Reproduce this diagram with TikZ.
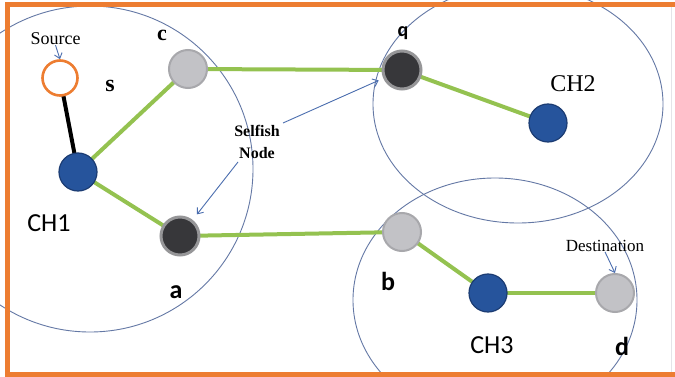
\documentclass[tikz,border=0pt]{standalone}
\usepackage{fontspec}
\setmainfont{Liberation Serif}
\newfontfamily\calib{Carlito}
\usetikzlibrary{arrows.meta,backgrounds}
\definecolor{frameorange}{RGB}{237,125,49}
\definecolor{rangeblue}{RGB}{100,120,165}
\definecolor{linkgreen}{RGB}{148,194,80}
\definecolor{headblue}{RGB}{38,84,156}
\definecolor{headrim}{RGB}{28,60,115}
\definecolor{idlegray}{RGB}{194,194,198}
\definecolor{idlerim}{RGB}{168,168,172}
\definecolor{selfdark}{RGB}{55,55,58}
\definecolor{selfrim}{RGB}{150,150,152}
\definecolor{pointblue}{RGB}{75,110,175}
\definecolor{edgegray}{RGB}{228,228,232}
\begin{document}
\begin{tikzpicture}[x=1pt,y=-1pt,
  mote/.style={circle,minimum size=38pt,inner sep=0pt},
  head/.style={mote,fill=headblue,draw=headrim,line width=1.2pt},
  idle/.style={mote,fill=idlegray,draw=idlerim,line width=2pt},
  rogue/.style={mote,fill=selfdark,draw=selfrim,line width=3pt},
  origin/.style={mote,fill=white,draw=frameorange,line width=2.6pt,minimum size=35pt},
  link/.style={linkgreen,line width=4pt},
  rangeline/.style={rangeblue,line width=0.9pt},
  pointer/.style={pointblue,line width=0.9pt,-{Straight Barb[length=5pt,width=8pt]}},
  txt/.style={inner sep=0pt}
]
\useasboundingbox (0,0) rectangle (675,377);

% sensor nodes
\node[origin] (s)   at (60,78)   {};
\node[idle]   (c)   at (188,69)  {};
\node[head]   (ch1) at (78,172)  {};
\node[rogue]  (a)   at (180,236) {};
\node[rogue]  (q)   at (402,70)  {};
\node[head]   (ch2) at (548,123) {};
\node[idle]   (b)   at (402,232) {};
\node[head]   (ch3) at (488,293) {};
\node[idle]   (d)   at (615,293) {};

% cluster ranges and links, kept underneath the nodes
\begin{scope}[on background layer]
  \fill[white] (0,0) rectangle (675,377);
  \begin{scope}
    \clip (0,0) rectangle (675,377);
    \draw[rangeline] (90,169) circle[radius=163pt];
    \draw[rangeline] (518,104) ellipse[x radius=145pt,y radius=119pt];
    \draw[rangeline] (495,300) ellipse[x radius=142pt,y radius=122pt];
  \end{scope}
  \draw[black,line width=4pt] (s.center) -- (ch1.center);
  \draw[link] (ch1.center) -- (c.center);
  \draw[link] (c.center) -- (q.center);
  \draw[link] (q.center) -- (ch2.center);
  \draw[link] (ch1.center) -- (a.center);
  \draw[link] (a.center) -- (b.center);
  \draw[link] (b.center) -- (ch3.center);
  \draw[link] (ch3.center) -- (d.center);
\end{scope}

% labels
\node[txt,font=\fontsize{18}{20}\selectfont] (srclbl) at (55.5,39) {Source};
\node[txt,font=\fontsize{22}{24}\selectfont\bfseries] (clbl) at (162,35) {c};
\node[txt,font=\fontsize{24}{26}\selectfont\bfseries] (slbl) at (110,86) {s};
\node[txt,font=\calib\fontsize{26}{28}\selectfont] (ch1lbl) at (49,223) {CH1};
\node[txt,font=\calib\fontsize{26}{28}\selectfont\bfseries] (albl) at (176,292) {a};
\node[txt,font=\calib\fontsize{20}{22}\selectfont\bfseries] (qlbl) at (403,33) {q};
\node[txt,font=\fontsize{24}{26}\selectfont] (ch2lbl) at (573,84) {CH2};
\node[txt,font=\calib\fontsize{26}{28}\selectfont\bfseries] (blbl) at (388,281) {b};
\node[txt,font=\calib\fontsize{26}{28}\selectfont] (ch3lbl) at (492,345) {CH3};
\node[txt,font=\calib\fontsize{26}{28}\selectfont\bfseries] (dlbl) at (622,346) {d};
\node[txt,font=\fontsize{17}{19}\selectfont] (dstlbl) at (605,246) {Destination};
\node[txt,align=center,font=\fontsize{16}{22}\selectfont\bfseries] (selfish) at (257,142)
  {Selfish\\ Node};

% pointers
\coordinate (selA) at (283,123);
\coordinate (selB) at (238,162);
\draw[pointer,shorten >=5pt] (selA) -- (q);
\draw[pointer,shorten >=7pt] (selB) -- (a);
\draw[pointer] (srclbl.south) -- (s.north);
\draw[pointer] (dstlbl.south) -- (d.north);

% outer frame: top, left and bottom edges, open on the right
\fill[frameorange] (4.5,2) rectangle (675,7);
\fill[frameorange] (4.5,2) rectangle (9.5,376.5);
\fill[frameorange] (4.5,371.5) rectangle (675,376.5);
\fill[white] (668,7) rectangle (675,371.5);
\draw[edgegray,line width=0.8pt] (671.5,7) -- (671.5,371.5);
\end{tikzpicture}
\end{document}
